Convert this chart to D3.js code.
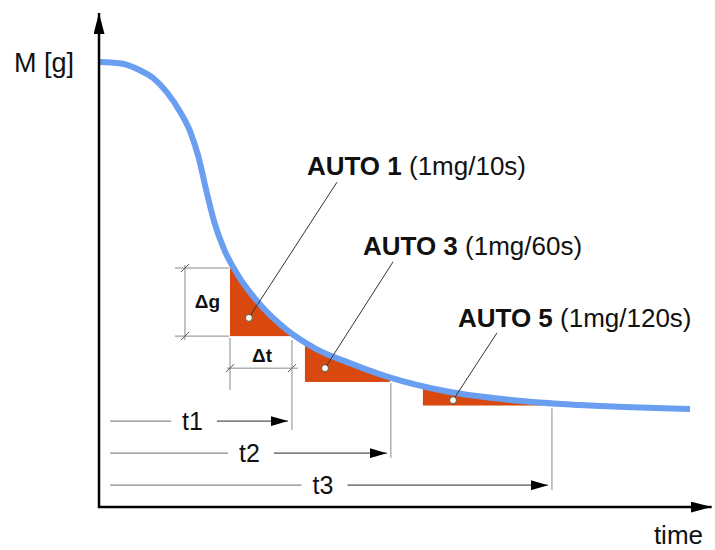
<!DOCTYPE html>
<html><head><meta charset="utf-8">
<script src="https://cdn.jsdelivr.net/npm/d3@7"></script>
<style>
body{margin:0;background:#fff}
svg{display:block}
text{font-family:"Liberation Sans",Arial,Helvetica,sans-serif;fill:#111}
</style>
</head><body><svg id="c" width="715" height="550"></svg>
<script>
// ---- data (time units / mass units) ----
const curveTime = [0, 10, 20, 27, 34, 41, 46, 50, 54, 58, 63, 70, 80, 95, 110, 126, 146, 176, 210, 244, 300];
const curveMass = [10.0, 9.97, 9.82, 9.64, 9.32, 8.86, 8.42, 7.88, 7.12, 6.42, 5.80, 5.22, 4.62, 3.98, 3.55, 3.25, 2.93, 2.60, 2.40, 2.29, 2.20];

const autoNames = ["AUTO 1", "AUTO 3", "AUTO 5"];
const autoRates = [" (1mg/10s)", " (1mg/60s)", " (1mg/120s)"];
const stepStart = [66.1, 104.2, 164.2];
const stepEnd = [96.6, 147.4, 228.8];
const stepFloor = [3.84, 2.81, 2.28];
const dotTime = [75.7, 114.4, 179.5];
const dotMass = [4.25, 3.12, 2.40];
const leaderTime = [120.5, 149.0, 201.8];
const leaderMass = [7.30, 5.51, 3.91];
const labelTime = [105.2, 133.7, 182.0];
const labelMass = [7.46, 5.66, 4.04];

const intervalLabels = ["t1", "t2", "t3"];
const intervalStart = 5.1;
const intervalEnd = [97.6, 147.9, 229.8];
const intervalRow = [1.93, 1.21, 0.49];
const intervalLabelTime = [47.0, 76.0, 113.4];
const intervalTickTop = [3.75, 2.79, 2.22];
const intervalTickBottom = [1.73, 1.10, 0.38];

const dtRow = 3.12, dtFrom = 64.6, dtTo = 100.6, dtExtTop = 3.80, dtExtBottom = 2.63, dtLabelTime = 82.4, dtLabelMass = 3.25;
const dgCol = 43.2, dgFrom = 5.44, dgTo = 3.75, dgExtFrom = 38.1, dgExtTo = 65.6, dgLevels = [5.37, 3.84], dgLabelTime = 54.6, dgLabelMass = 4.47;

const tMax = 311, mMax = 11.1;
const yTitle = "M [g]", xTitle = "time";

// ---- scales ----
const x = d3.scaleLinear().domain([0, 300]).range([100, 690]);
const y = d3.scaleLinear().domain([0, 10]).range([507, 62]);

const svg = d3.select("#c");
const defs = svg.append("defs");
function marker(id, len, half) {
  defs.append("marker").attr("id", id)
    .attr("viewBox", `0 0 ${len} ${half * 2}`).attr("refX", len).attr("refY", half)
    .attr("markerWidth", len).attr("markerHeight", half * 2)
    .attr("markerUnits", "userSpaceOnUse").attr("orient", "auto")
    .append("path").attr("d", `M0,0L${len},${half}L0,${half * 2}Z`).attr("fill", "#000");
}
marker("axArrow", 21, 5.5);
marker("tArrow", 17, 5);

const pts = curveTime.map((t, i) => [t, curveMass[i]]);

// clip region: area below the curve
defs.append("clipPath").attr("id", "below")
  .append("path")
  .attr("d", d3.area().x(d => x(d[0])).y0(y(0)).y1(d => y(d[1])).curve(d3.curveMonotoneX)(pts));

// ---- step triangles ----
const tri = svg.append("g").attr("clip-path", "url(#below)");
stepStart.forEach((t0, i) => {
  tri.append("rect")
    .attr("x", x(t0)).attr("width", x(stepEnd[i]) - x(t0))
    .attr("y", y(mMax)).attr("height", y(stepFloor[i]) - y(mMax))
    .attr("fill", "#d9480f");
});

// ---- dimension lines (grey) ----
const dim = svg.append("g").attr("stroke", "#8a8a8a").attr("stroke-width", 1).attr("fill", "none");
function slash(px, py) {
  dim.append("line").attr("x1", px - 4).attr("y1", py + 4).attr("x2", px + 4).attr("y2", py - 4).attr("stroke", "#555");
}
// Δg
dim.append("line").attr("x1", x(dgCol)).attr("x2", x(dgCol)).attr("y1", y(dgFrom)).attr("y2", y(dgTo));
dgLevels.forEach(m => {
  dim.append("line").attr("x1", x(dgExtFrom)).attr("x2", x(dgExtTo)).attr("y1", y(m)).attr("y2", y(m));
  slash(x(dgCol), y(m));
});
// Δt
dim.append("line").attr("x1", x(dtFrom)).attr("x2", x(dtTo)).attr("y1", y(dtRow)).attr("y2", y(dtRow));
dim.append("line").attr("x1", x(stepStart[0])).attr("x2", x(stepStart[0])).attr("y1", y(dtExtTop)).attr("y2", y(dtExtBottom));
slash(x(stepStart[0]), y(dtRow));
slash(x(intervalEnd[0]), y(dtRow));
// interval end ticks
intervalEnd.forEach((t, i) => {
  dim.append("line").attr("x1", x(t)).attr("x2", x(t)).attr("y1", y(intervalTickTop[i])).attr("y2", y(intervalTickBottom[i]));
});

svg.append("text").attr("x", x(dgLabelTime)).attr("y", y(dgLabelMass))
  .attr("text-anchor", "middle").attr("font-size", 19).attr("font-weight", "bold").text("\u0394g");
svg.append("text").attr("x", x(dtLabelTime)).attr("y", y(dtLabelMass))
  .attr("text-anchor", "middle").attr("font-size", 19).attr("font-weight", "bold").text("\u0394t");

// ---- interval arrows t1..t3 ----
intervalLabels.forEach((lab, i) => {
  const ty = y(intervalRow[i]);
  const txt = svg.append("text").attr("x", x(intervalLabelTime[i])).attr("y", ty + 9)
    .attr("text-anchor", "middle").attr("font-size", 25).text(lab);
  const bb = txt.node().getBBox();
  svg.append("line").attr("x1", x(intervalStart)).attr("x2", bb.x - 11).attr("y1", ty).attr("y2", ty)
    .attr("stroke", "#8a8a8a").attr("stroke-width", 1.2);
  svg.append("line").attr("x1", bb.x + bb.width + 14).attr("x2", x(intervalEnd[i]) - 4).attr("y1", ty).attr("y2", ty)
    .attr("stroke", "#555").attr("stroke-width", 1.2).attr("marker-end", "url(#tArrow)");
});

// ---- curve ----
svg.append("path")
  .attr("d", d3.line().x(d => x(d[0])).y(d => y(d[1])).curve(d3.curveMonotoneX)(pts))
  .attr("fill", "none").attr("stroke", "#6a9ef0").attr("stroke-width", 6).attr("stroke-linecap", "butt");

// ---- leaders, dots, labels ----
autoNames.forEach((name, i) => {
  svg.append("line").attr("x1", x(dotTime[i])).attr("y1", y(dotMass[i]))
    .attr("x2", x(leaderTime[i])).attr("y2", y(leaderMass[i]))
    .attr("stroke", "#333").attr("stroke-width", 1);
  svg.append("circle").attr("cx", x(dotTime[i])).attr("cy", y(dotMass[i])).attr("r", 3.5)
    .attr("fill", "#fffbea").attr("stroke", "#555").attr("stroke-width", 1);
  const t = svg.append("text").attr("x", x(labelTime[i])).attr("y", y(labelMass[i])).attr("font-size", 26);
  t.append("tspan").attr("font-weight", "bold").text(name);
  t.append("tspan").text(autoRates[i]);
});

// ---- axes ----
svg.append("line").attr("x1", x(0) - 1).attr("x2", x(0) - 1).attr("y1", y(0) + 1).attr("y2", y(mMax))
  .attr("stroke", "#000").attr("stroke-width", 2.5).attr("marker-end", "url(#axArrow)");
svg.append("line").attr("x1", x(0) - 2).attr("x2", x(tMax)).attr("y1", y(0)).attr("y2", y(0))
  .attr("stroke", "#000").attr("stroke-width", 2.5).attr("marker-end", "url(#axArrow)");

svg.append("text").attr("x", x(0) - 26).attr("y", y(10) + 10).attr("text-anchor", "end")
  .attr("font-size", 27).text(yTitle);
svg.append("text").attr("x", 703).attr("y", y(0) + 37).attr("text-anchor", "end")
  .attr("font-size", 26).text(xTitle);
</script>
</body></html>
